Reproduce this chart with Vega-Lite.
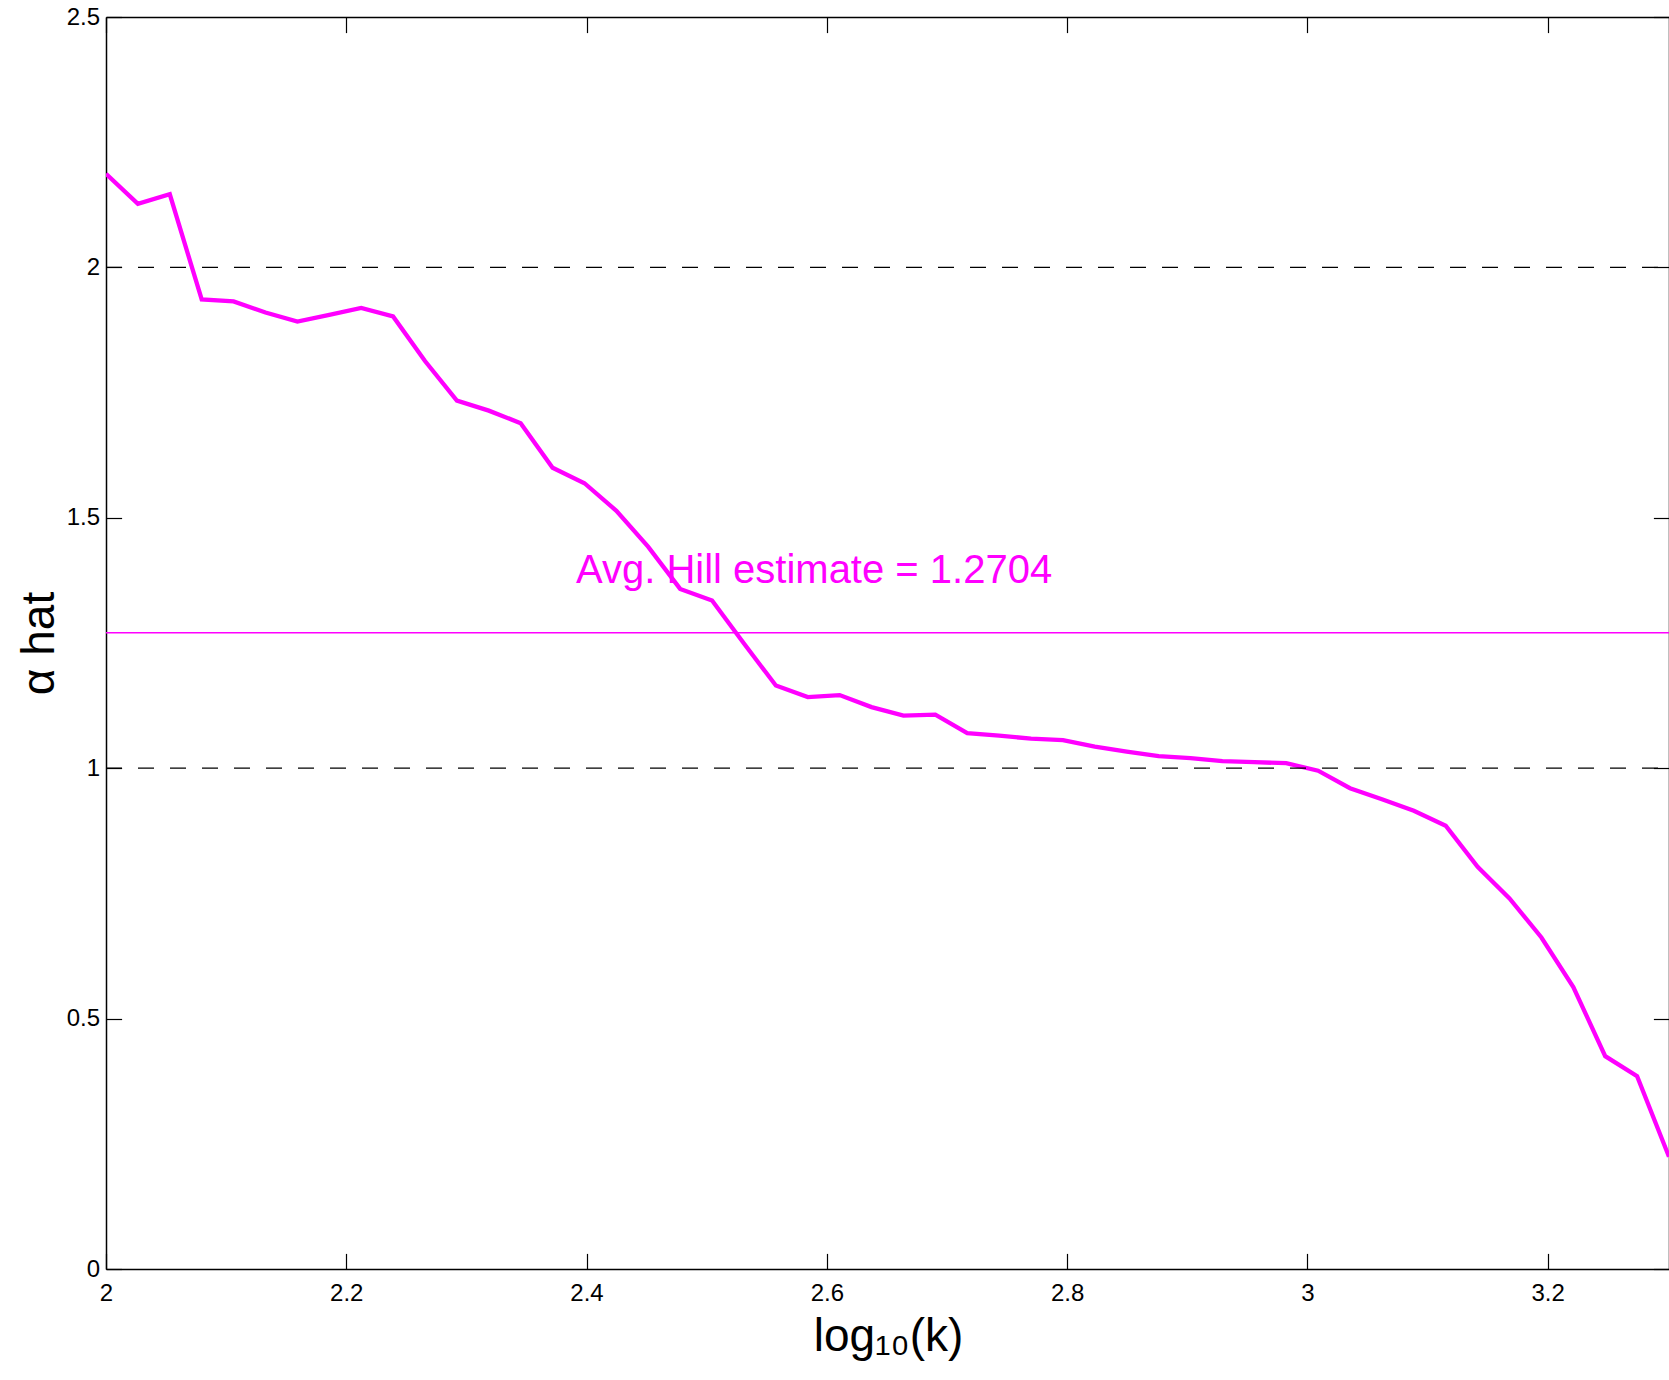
{
  "$schema": "https://vega.github.io/schema/vega-lite/v6.json",
  "width": 1563,
  "height": 1252,
  "autosize": {"type": "none"},
  "padding": {"left": 106, "top": 17, "right": 0, "bottom": 111},
  "background": "white",
  "config": {
    "view": {"stroke": null},
    "axis": {
      "labelFont": "Liberation Sans",
      "titleFont": "Liberation Sans",
      "domainColor": "black",
      "tickColor": "black",
      "labelColor": "black",
      "titleColor": "black",
      "grid": false,
      "domainWidth": 1.5,
      "tickWidth": 1.2,
      "labelFontSize": 24,
      "titleFontSize": 46,
      "titleFontWeight": "normal",
      "tickSize": -15.6
    }
  },
  "datasets": {
    "hill": [
      {"log10k": 2.0, "alpha": 2.187},
      {"log10k": 2.02655, "alpha": 2.127},
      {"log10k": 2.0531, "alpha": 2.146},
      {"log10k": 2.07966, "alpha": 1.936},
      {"log10k": 2.10621, "alpha": 1.932},
      {"log10k": 2.13276, "alpha": 1.91},
      {"log10k": 2.15931, "alpha": 1.892},
      {"log10k": 2.18586, "alpha": 1.905},
      {"log10k": 2.21241, "alpha": 1.919},
      {"log10k": 2.23897, "alpha": 1.902},
      {"log10k": 2.26552, "alpha": 1.813},
      {"log10k": 2.29207, "alpha": 1.734},
      {"log10k": 2.31862, "alpha": 1.714},
      {"log10k": 2.34517, "alpha": 1.689},
      {"log10k": 2.37172, "alpha": 1.6},
      {"log10k": 2.39828, "alpha": 1.569},
      {"log10k": 2.42483, "alpha": 1.514},
      {"log10k": 2.45138, "alpha": 1.442},
      {"log10k": 2.47793, "alpha": 1.358},
      {"log10k": 2.50448, "alpha": 1.335},
      {"log10k": 2.53103, "alpha": 1.249},
      {"log10k": 2.55758, "alpha": 1.165},
      {"log10k": 2.58414, "alpha": 1.142},
      {"log10k": 2.61069, "alpha": 1.146},
      {"log10k": 2.63724, "alpha": 1.122},
      {"log10k": 2.66379, "alpha": 1.105},
      {"log10k": 2.69034, "alpha": 1.107},
      {"log10k": 2.71689, "alpha": 1.07},
      {"log10k": 2.74345, "alpha": 1.065},
      {"log10k": 2.77, "alpha": 1.059},
      {"log10k": 2.79655, "alpha": 1.056},
      {"log10k": 2.8231, "alpha": 1.043},
      {"log10k": 2.84965, "alpha": 1.033},
      {"log10k": 2.8762, "alpha": 1.024},
      {"log10k": 2.90276, "alpha": 1.02},
      {"log10k": 2.92931, "alpha": 1.014},
      {"log10k": 2.95586, "alpha": 1.012},
      {"log10k": 2.98241, "alpha": 1.01},
      {"log10k": 3.00896, "alpha": 0.995},
      {"log10k": 3.03551, "alpha": 0.96},
      {"log10k": 3.06207, "alpha": 0.938},
      {"log10k": 3.08862, "alpha": 0.915},
      {"log10k": 3.11517, "alpha": 0.885},
      {"log10k": 3.14172, "alpha": 0.803},
      {"log10k": 3.16827, "alpha": 0.74},
      {"log10k": 3.19482, "alpha": 0.662},
      {"log10k": 3.22138, "alpha": 0.563},
      {"log10k": 3.24793, "alpha": 0.425},
      {"log10k": 3.27448, "alpha": 0.385},
      {"log10k": 3.30103, "alpha": 0.224}
    ],
    "refs": [{"level": 1}, {"level": 2}],
    "avg": [{"value": 1.2704}],
    "note": [{"x": 2.3912, "y": 1.369, "label": "Avg. Hill estimate = 1.2704"}]
  },
  "layer": [
    {
      "data": {"name": "hill"},
      "mark": {"type": "line", "color": "#ff00ff", "strokeWidth": 4.3, "clip": true},
      "encoding": {
        "x": {
          "field": "log10k", "type": "quantitative",
          "scale": {"domain": [2, 3.30103], "nice": false, "zero": false},
          "axis": {
            "orient": "bottom",
            "values": [2, 2.2, 2.4, 2.6, 2.8, 3, 3.2],
            "format": "~g",
            "labelPadding": 27.6,
            "labelFlush": false,
            "title": "log₁₀(k)",
            "titleBaseline": "alphabetic",
            "titleX": 782,
            "titleY": 81
          }
        },
        "y": {
          "field": "alpha", "type": "quantitative",
          "scale": {"domain": [0, 2.5], "nice": false, "zero": false},
          "axis": {
            "orient": "left",
            "values": [0, 0.5, 1, 1.5, 2, 2.5],
            "format": "~g",
            "labelPadding": 22,
            "labelFlush": false,
            "title": "α hat",
            "titleBaseline": "alphabetic",
            "titleAngle": -90,
            "titleX": -53,
            "titleY": 626
          }
        }
      }
    },
    {
      "data": {"name": "refs"},
      "mark": {"type": "rule", "color": "black", "strokeWidth": 1.3, "strokeDash": [16, 16]},
      "encoding": {
        "x": {"datum": 2, "type": "quantitative",
          "axis": {"orient": "top", "values": [2, 2.2, 2.4, 2.6, 2.8, 3, 3.2], "labels": false, "title": null}},
        "x2": {"datum": 3.30103},
        "y": {"field": "level", "type": "quantitative",
          "axis": {"orient": "right", "values": [0, 0.5, 1, 1.5, 2, 2.5], "labels": false, "title": null}}
      }
    },
    {
      "data": {"name": "avg"},
      "mark": {"type": "rule", "color": "#ff00ff", "strokeWidth": 1.5},
      "encoding": {
        "y": {"field": "value", "type": "quantitative", "axis": null}
      }
    },
    {
      "data": {"name": "note"},
      "mark": {"type": "text", "color": "#ff00ff", "font": "Liberation Sans", "fontSize": 40, "align": "left", "baseline": "alphabetic"},
      "encoding": {
        "x": {"field": "x", "type": "quantitative", "axis": null},
        "y": {"field": "y", "type": "quantitative", "axis": null},
        "text": {"field": "label"}
      }
    }
  ],
  "resolve": {"axis": {"x": "independent", "y": "independent"}}
}
